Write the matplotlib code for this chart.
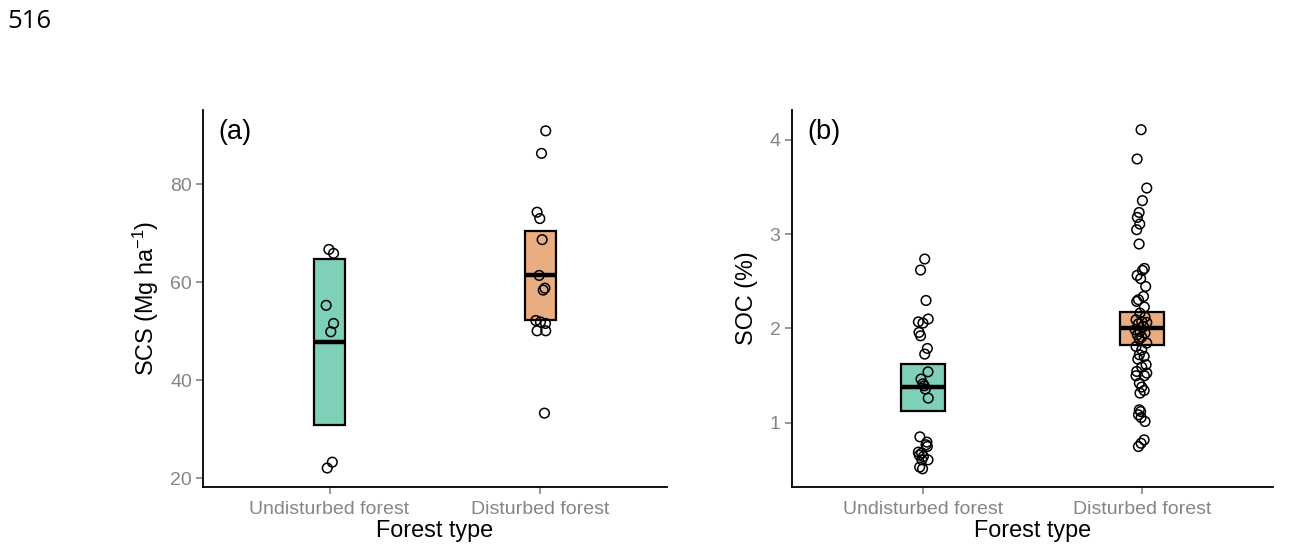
import numpy as np
import matplotlib
matplotlib.use("Agg")
import matplotlib.pyplot as plt

plt.rcParams['font.family'] = ['Liberation Sans', 'DejaVu Sans']
plt.rcParams['mathtext.fontset'] = 'custom'
plt.rcParams['mathtext.rm'] = 'Liberation Sans'
plt.rcParams['mathtext.it'] = 'Liberation Sans:italic'

categories = ["Undisturbed forest", "Disturbed forest"]
box_colors = ["#7fd0b9", "#e8ad80"]

# Panel (a): SCS (Mg ha-1)
scs_lower = [30.9, 52.4]
scs_mid = [47.8, 61.5]
scs_upper = [64.7, 70.5]
scs_undist = [66.7, 65.9, 55.3, 51.6, 49.9, 23.3, 22.1]
scs_undist_jit = [-0.003, 0.019, -0.016, 0.019, 0.006, 0.013, -0.011]
scs_dist = [90.9, 86.3, 74.3, 73.0, 68.7, 61.4, 58.8, 58.4, 52.2, 51.9, 51.6, 50.1, 50.1, 33.3]
scs_dist_jit = [0.025, 0.005, -0.016, -0.003, 0.008, -0.006, 0.021, 0.013, -0.022, 0.0,
                0.024, -0.016, 0.025, 0.019]

# Panel (b): SOC (%)
soc_lower = [1.119, 1.827]
soc_mid = [1.374, 2.004]
soc_upper = [1.622, 2.177]
soc_undist = [2.737, 2.62, 2.297, 2.10, 2.07, 2.057, 1.958, 1.922, 1.788, 1.728, 1.54, 1.463,
              1.413, 1.392, 1.357, 1.261, 0.85, 0.794, 0.766, 0.748, 0.688, 0.677, 0.656,
              0.642, 0.606, 0.606, 0.529, 0.511]
soc_undist_jit = [0.008, -0.011, 0.014, 0.024, -0.021, 0.0, -0.018, -0.011, 0.020, 0.008,
                  0.023, -0.009, 0.0, 0.006, 0.011, 0.024, -0.014, 0.018, 0.014, 0.020,
                  -0.021, -0.006, -0.017, 0.002, 0.023, -0.005, -0.015, -0.002]
soc_dist = [4.109, 3.798, 3.49, 3.356, 3.231, 3.178, 3.108, 3.048, 2.896, 2.637, 2.616, 2.563,
            2.528, 2.446, 2.34, 2.305, 2.287, 2.227, 2.163, 2.121, 2.092, 2.074, 2.064, 2.05,
            2.021, 1.986, 1.968, 1.951, 1.933, 1.909, 1.887, 1.845, 1.809, 1.774, 1.721, 1.703,
            1.675, 1.615, 1.59, 1.544, 1.527, 1.498, 1.498, 1.42, 1.378, 1.342, 1.314, 1.137,
            1.119, 1.084, 1.055, 1.013, 0.818, 0.782, 0.747]
soc_dist_jit = [-0.003, -0.021, 0.023, 0.003, -0.012, -0.020, -0.009, -0.023, -0.012, 0.012,
                0.003, -0.021, -0.005, 0.018, 0.008, -0.015, -0.023, 0.012, -0.008, 0.015,
                -0.026, 0.0, 0.023, -0.015, 0.008, -0.030, -0.008, 0.015, -0.020, 0.0,
                -0.011, 0.023, -0.026, 0.0, -0.011, 0.011, -0.018, 0.020, 0.0, -0.023,
                0.023, -0.026, 0.012, -0.011, 0.0, 0.011, -0.008, -0.011, -0.005, -0.015,
                -0.003, 0.015, 0.011, -0.003, -0.015]

fig = plt.figure(figsize=(13.15, 5.48), dpi=100)
fig.text(7 / 1315, 1 - 22 / 548, "516", fontsize=18.5, family=['Open Sans', 'DejaVu Sans'],
         va='center', ha='left', color='black')

tick_gray = '#858585'


def panel(rect, lower, mid, upper, groups, jits, box_w, ylim, yticks, ylabel, tag, ylab_x):
    ax = fig.add_axes(rect)
    pos = np.arange(1, len(categories) + 1)
    heights = np.array(upper) - np.array(lower)
    ax.bar(pos, heights, bottom=lower, width=box_w, color=box_colors, edgecolor='black',
           linewidth=1.6, zorder=2)
    ax.hlines(mid, pos - box_w / 2, pos + box_w / 2, color='black', linewidth=3.2, zorder=3)
    for p, vals, jit in zip(pos, groups, jits):
        ax.scatter(p + np.array(jit), vals, s=48, facecolors='none', edgecolors='black',
                   linewidths=1.1, zorder=4)
    ax.set_xlim(0.4, 2.6)
    ax.set_ylim(*ylim)
    ax.set_xticks(pos)
    ax.set_xticklabels(categories)
    ax.set_yticks(yticks)
    ax.spines['top'].set_visible(False)
    ax.spines['right'].set_visible(False)
    for s in ['left', 'bottom']:
        ax.spines[s].set_linewidth(1.3)
        ax.spines[s].set_color('black')
    ax.tick_params(axis='both', colors=tick_gray, labelcolor=tick_gray, length=5, width=1.2,
                   labelsize=14, pad=3)
    ax.tick_params(axis='x', pad=5)
    ax.set_xlabel("Forest type", fontsize=16.8, color='black', labelpad=1)
    ax.set_ylabel(ylabel, fontsize=16.8, color='black')
    ax.yaxis.set_label_coords(ylab_x, 0.5)
    ax.text(0.033, 0.975, tag, transform=ax.transAxes, fontsize=19.5, va='top', ha='left')
    return ax


panel([203 / 1315, 61.3 / 548, 464 / 1315, 376.7 / 548], scs_lower, scs_mid, scs_upper,
      [scs_undist, scs_dist], [scs_undist_jit, scs_dist_jit], 0.15, (18.29, 95.15),
      [20, 40, 60, 80], "SCS (Mg ha$^{-1}$)", "(a)", -0.090)

panel([791.7 / 1315, 61.3 / 548, 481.3 / 1315, 376.7 / 548], soc_lower, soc_mid, soc_upper,
      [soc_undist, soc_dist], [soc_undist_jit, soc_dist_jit], 0.2, (0.321, 4.318),
      [1, 2, 3, 4], "SOC (%)", "(b)", -0.069)

fig.savefig("out.png", dpi=100)
